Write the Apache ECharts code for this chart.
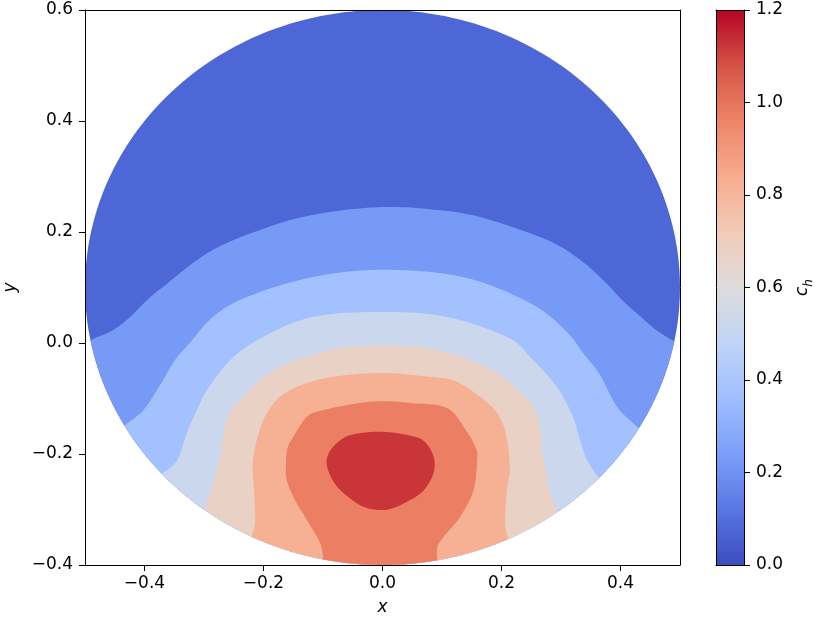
<!DOCTYPE html>
<html>
<head>
<meta charset="utf-8">
<script src="https://cdn.jsdelivr.net/npm/echarts@6/dist/echarts.min.js"></script>
<style>
html, body { margin: 0; padding: 0; background: #fff; }
#main { width: 830px; height: 623px; }
</style>
</head>
<body>
<div id="main"></div>
<script>
// contour levels of c_h, bands are filled between consecutive levels
let levels = [0, 0.15, 0.30, 0.45, 0.60, 0.75, 0.90, 1.05, 1.20]
// domain is a disk
let domainCenter = [0, 0.1]
let domainRadius = 0.5

// level lines, left edge of disk -> right edge
let c015 = [[-0.492, 0.005], [-0.453, 0.023], [-0.424, 0.047], [-0.396, 0.077], [-0.369, 0.101], [-0.285, 0.168],
    [-0.172, 0.216], [-0.088, 0.236], [0.000, 0.245], [0.080, 0.241], [0.164, 0.227], [0.276, 0.186], [0.332, 0.150],
    [0.374, 0.110], [0.403, 0.077], [0.429, 0.052], [0.458, 0.025], [0.488, 0.004]]
let c030 = [[-0.433, -0.148], [-0.402, -0.121], [-0.374, -0.076], [-0.349, -0.031], [-0.324, 0.000], [-0.285, 0.047],
    [-0.228, 0.083], [-0.117, 0.119], [0.000, 0.132], [0.135, 0.119], [0.248, 0.072], [0.307, 0.023], [0.340, -0.022],
    [0.366, -0.058], [0.394, -0.115], [0.428, -0.151]]
let c045 = [[-0.369, -0.234], [-0.345, -0.211], [-0.329, -0.162], [-0.312, -0.121], [-0.295, -0.085], [-0.256, -0.031],
    [-0.201, 0.011], [-0.117, 0.047], [0.000, 0.056], [0.108, 0.047], [0.209, 0.011], [0.248, -0.025], [0.293, -0.079],
    [0.320, -0.133], [0.332, -0.175], [0.344, -0.211], [0.362, -0.241]]
let c060 = [[-0.298, -0.297], [-0.285, -0.252], [-0.273, -0.205], [-0.261, -0.133], [-0.239, -0.103], [-0.206, -0.067],
    [-0.172, -0.043], [-0.127, -0.025], [-0.071, -0.009], [0.001, -0.004], [0.071, -0.009], [0.125, -0.022],
    [0.172, -0.043], [0.209, -0.067], [0.248, -0.108], [0.262, -0.140], [0.268, -0.189], [0.280, -0.263], [0.293, -0.305]]
let c075 = [[-0.219, -0.346], [-0.214, -0.319], [-0.216, -0.265], [-0.218, -0.216], [-0.209, -0.166], [-0.194, -0.126],
    [-0.169, -0.094], [-0.127, -0.072], [-0.071, -0.059], [0.001, -0.054], [0.080, -0.061], [0.125, -0.070],
    [0.181, -0.112], [0.203, -0.148], [0.211, -0.187], [0.214, -0.229], [0.209, -0.265], [0.206, -0.324], [0.211, -0.351]]
let c090 = [[-0.100, -0.386], [-0.105, -0.360], [-0.127, -0.319], [-0.147, -0.283], [-0.161, -0.247], [-0.162, -0.211],
    [-0.159, -0.187], [-0.150, -0.169], [-0.127, -0.133], [-0.100, -0.121], [-0.038, -0.108], [0.001, -0.105],
    [0.046, -0.108], [0.108, -0.117], [0.140, -0.157], [0.157, -0.190], [0.159, -0.211], [0.153, -0.265],
    [0.130, -0.314], [0.102, -0.350], [0.092, -0.368], [0.092, -0.391]]
// closed line round the maximum
let c105 = [[0.001, -0.160], [0.051, -0.168], [0.071, -0.178], [0.085, -0.202], [0.087, -0.229], [0.076, -0.256],
    [0.060, -0.274], [0.024, -0.295], [-0.004, -0.301], [-0.038, -0.292], [-0.076, -0.259], [-0.093, -0.223],
    [-0.090, -0.198], [-0.071, -0.175], [-0.046, -0.164]]
let contours = [c015, c030, c045, c060, c075, c090, c105]

let xTicks = [-0.4, -0.2, 0, 0.2, 0.4]
let cbarMax = 1.2

// coolwarm colormap
let coolwarm = ['#3b4cc0', '#5977e3', '#7b9ff9', '#9ebeff', '#c0d4f5', '#dddcdc', '#f2cbb7', '#f7ac8e', '#ee8468', '#d65244', '#b40426']
let bandColors = []
for (let i = 0; i < levels.length - 1; i++) {
    bandColors.push(echarts.color.lerp((levels[i] + levels[i + 1]) / 2 / cbarMax, coolwarm))
}

function angleOf(p) {
    return Math.atan2(p[1] - domainCenter[1], p[0] - domainCenter[0])
}
function arc(a0, a1, n) {
    let pts = []
    for (let i = 0; i <= n; i++) {
        let a = a0 + (a1 - a0) * i / n
        pts.push([domainCenter[0] + domainRadius * Math.cos(a), domainCenter[1] + domainRadius * Math.sin(a)])
    }
    return pts
}
// catmull-rom, only to draw the level line smooth between the read points
function spline(pts, closed, n) {
    let out = []
    let m = pts.length
    let segs = closed ? m : m - 1
    for (let i = 0; i < segs; i++) {
        let p0 = pts[closed ? (i - 1 + m) % m : Math.max(i - 1, 0)]
        let p1 = pts[i]
        let p2 = pts[(i + 1) % m]
        let p3 = pts[closed ? (i + 2) % m : Math.min(i + 2, m - 1)]
        for (let k = 0; k < n; k++) {
            let t = k / n, t2 = t * t, t3 = t2 * t
            out.push([0, 1].map(function (d) {
                return 0.5 * (2 * p1[d] + (p2[d] - p0[d]) * t + (2 * p0[d] - 5 * p1[d] + 4 * p2[d] - p3[d]) * t2
                    + (3 * p1[d] - p0[d] - 3 * p2[d] + p3[d]) * t3)
            }))
        }
    }
    if (!closed) out.push(pts[m - 1])
    return out
}

let fmt = function (v) {
    return (+v).toFixed(1).replace('-', '\u2212')
}
let font = 'DejaVu Sans'
let fs = 17

let myChart = echarts.init(document.getElementById('main'))
let option = {
    animation: false,
    backgroundColor: '#fff',
    grid: [
        { left: 85, top: 10, width: 595, height: 555, outerBoundsMode: 'none', containLabel: false },
        { left: 716, top: 10, width: 28, height: 555, outerBoundsMode: 'none', containLabel: false }
    ],
    xAxis: [{
        gridIndex: 0, type: 'value', min: -0.5, max: 0.5, position: 'bottom', z: 5,
        axisLine: { show: true, onZero: false, lineStyle: { color: '#000', width: 1 } },
        axisTick: { show: true, length: 6, customValues: xTicks, lineStyle: { color: '#000' } },
        axisLabel: { customValues: xTicks, formatter: fmt, color: '#000', fontFamily: font, fontSize: fs, margin: 10 },
        splitLine: { show: false },
        name: 'x', nameLocation: 'middle', nameGap: 34,
        nameTextStyle: { color: '#000', fontFamily: font, fontSize: fs, fontStyle: 'italic' }
    }, {
        gridIndex: 0, type: 'value', min: -0.5, max: 0.5, position: 'top', z: 5,
        axisLine: { show: true, onZero: false, lineStyle: { color: '#000', width: 1 } },
        axisTick: { show: false }, axisLabel: { show: false }, splitLine: { show: false }
    }, {
        gridIndex: 1, type: 'category', data: ['c'], position: 'bottom', z: 5,
        axisLine: { show: true, onZero: false, lineStyle: { color: '#000', width: 1 } },
        axisTick: { show: false }, axisLabel: { show: false }
    }, {
        gridIndex: 1, type: 'category', data: ['c'], position: 'top', z: 5,
        axisLine: { show: true, onZero: false, lineStyle: { color: '#000', width: 1 } },
        axisTick: { show: false }, axisLabel: { show: false }
    }],
    yAxis: [{
        gridIndex: 0, type: 'value', min: -0.4, max: 0.6, interval: 0.2, position: 'left', z: 5,
        axisLine: { show: true, onZero: false, lineStyle: { color: '#000', width: 1 } },
        axisTick: { show: true, length: 6, lineStyle: { color: '#000' } },
        axisLabel: { formatter: fmt, color: '#000', fontFamily: font, fontSize: fs, margin: 12 },
        splitLine: { show: false },
        name: 'y', nameLocation: 'middle', nameGap: 66,
        nameTextStyle: { color: '#000', fontFamily: font, fontSize: fs, fontStyle: 'italic' }
    }, {
        gridIndex: 0, type: 'value', min: -0.4, max: 0.6, interval: 0.2, position: 'right', z: 5,
        axisLine: { show: true, onZero: false, lineStyle: { color: '#000', width: 1 } },
        axisTick: { show: false }, axisLabel: { show: false }, splitLine: { show: false }
    }, {
        gridIndex: 1, type: 'value', min: 0, max: cbarMax, interval: 0.2, position: 'right', z: 5,
        axisLine: { show: true, onZero: false, lineStyle: { color: '#000', width: 1 } },
        axisTick: { show: true, length: 6, lineStyle: { color: '#000' } },
        axisLabel: { formatter: fmt, color: '#000', fontFamily: font, fontSize: fs, margin: 12 },
        splitLine: { show: false },
        name: '{c|c}{h|h}', nameLocation: 'middle', nameGap: 47,
        nameTextStyle: {
            rich: {
                c: { color: '#000', fontFamily: font, fontSize: fs, fontStyle: 'italic', lineHeight: 24 },
                h: { color: '#000', fontFamily: font, fontSize: 12, fontStyle: 'italic', lineHeight: 14, verticalAlign: 'bottom' }
            }
        }
    }, {
        gridIndex: 1, type: 'value', min: 0, max: cbarMax, position: 'left', z: 5,
        axisLine: { show: true, onZero: false, lineStyle: { color: '#000', width: 1 } },
        axisTick: { show: false }, axisLabel: { show: false }, splitLine: { show: false }
    }],
    series: [{
        type: 'custom',
        xAxisIndex: 0, yAxisIndex: 0,
        clip: true,
        z: 2,
        dimensions: ['x', 'y', 'band'],
        encode: { x: 0, y: 1 },
        data: bandColors.map(function (c, i) { return [domainCenter[0], domainCenter[1], i] }),
        renderItem: function (params, api) {
            let band = api.value(2)
            let pts
            if (band === 0) {
                pts = arc(0, 2 * Math.PI, 240)
            } else if (band === contours.length) {
                pts = spline(contours[band - 1], true, 10)
            } else {
                let line = contours[band - 1]
                let a0 = angleOf(line[line.length - 1])
                let a1 = angleOf(line[0])
                pts = spline(line, false, 10).concat(arc(a0, a1, 160))
            }
            return {
                type: 'polygon',
                shape: { points: pts.map(function (p) { return api.coord(p) }) },
                style: { fill: bandColors[band] }
            }
        }
    }, {
        type: 'bar',
        xAxisIndex: 2, yAxisIndex: 2,
        barWidth: '100%',
        z: 2,
        data: [cbarMax],
        itemStyle: {
            color: new echarts.graphic.LinearGradient(0, 1, 0, 0, coolwarm.map(function (c, i) {
                return { offset: i / (coolwarm.length - 1), color: c }
            }))
        }
    }]
}
myChart.setOption(option)
</script>
</body>
</html>
